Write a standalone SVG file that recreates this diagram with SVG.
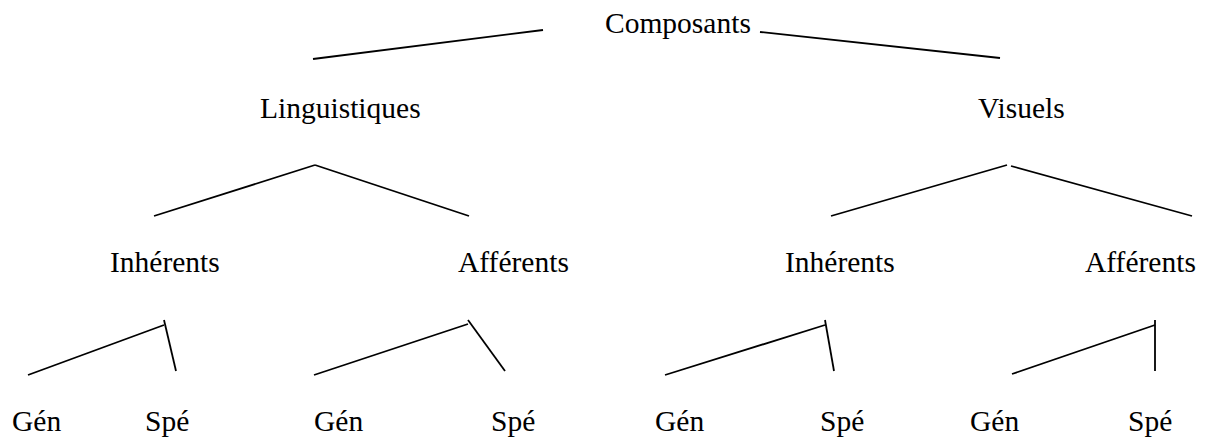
<svg xmlns="http://www.w3.org/2000/svg" width="1215" height="439" viewBox="0 0 1215 439">
<style>
text{font-family:"Liberation Serif","Times New Roman",serif;font-size:29.5px;fill:#000}
.c line{stroke:#000;stroke-width:1.8;stroke-linecap:butt}
</style>
<rect width="1215" height="439" fill="#fff"/>
<g class="c" id="connectors">
<line x1="313" y1="59" x2="543" y2="30"/>
<line x1="760" y1="32" x2="1000" y2="58"/>
<line x1="154" y1="216" x2="315" y2="165"/>
<line x1="315" y1="165" x2="469" y2="216"/>
<line x1="831" y1="216" x2="1007" y2="165"/>
<line x1="1011" y1="166" x2="1192" y2="216"/>
<line x1="28" y1="375" x2="164" y2="325"/>
<line x1="164" y1="320" x2="176" y2="371"/>
<line x1="314" y1="375" x2="468" y2="324"/>
<line x1="468" y1="320" x2="505" y2="371"/>
<line x1="665" y1="375" x2="825" y2="325"/>
<line x1="825" y1="320" x2="834" y2="371"/>
<line x1="1012" y1="374" x2="1155" y2="325"/>
<line x1="1155" y1="320" x2="1155" y2="371"/>
</g>
<g id="composants"><text x="605" y="33">Composants</text></g>
<g id="linguistiques"><text x="260" y="118">Linguistiques</text></g>
<g id="visuels"><text x="978" y="118">Visuels</text></g>
<g id="l-inherents"><text x="110" y="272">Inhérents</text></g>
<g id="l-afferents"><text x="458" y="272">Afférents</text></g>
<g id="v-inherents"><text x="785" y="272">Inhérents</text></g>
<g id="v-afferents"><text x="1085" y="272">Afférents</text></g>
<g id="li-gen"><text x="12" y="431">Gén</text></g>
<g id="li-spe"><text x="145" y="431">Spé</text></g>
<g id="la-gen"><text x="314" y="431">Gén</text></g>
<g id="la-spe"><text x="491" y="431">Spé</text></g>
<g id="vi-gen"><text x="655" y="431">Gén</text></g>
<g id="vi-spe"><text x="820" y="431">Spé</text></g>
<g id="va-gen"><text x="970" y="431">Gén</text></g>
<g id="va-spe"><text x="1128" y="431">Spé</text></g>
</svg>
